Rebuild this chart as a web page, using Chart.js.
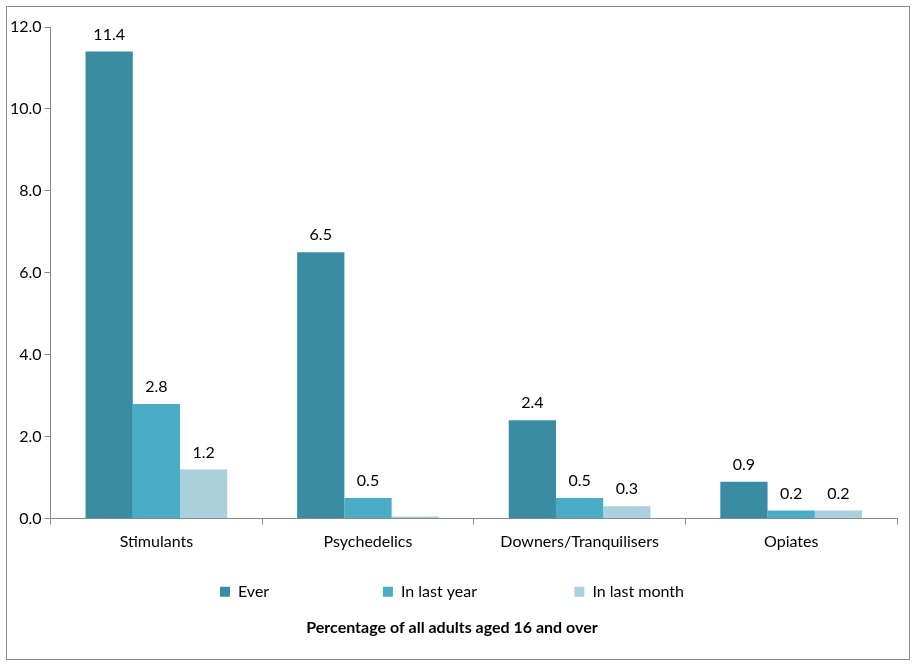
<!DOCTYPE html>
<html><head><meta charset="utf-8">
<script src="https://cdn.jsdelivr.net/npm/chart.js@4"></script>
<style>body{margin:0;background:#fff}#w{position:absolute;left:6px;top:6px;width:902px;height:652px;border:1px solid #8c8c8c}</style>
</head><body><div id="w"><canvas id="c"></canvas></div>
<script>
const categories=["Stimulants","Psychedelics","Downers/Tranquilisers","Opiates"];
const ever=[11.4,6.5,2.4,0.9];
const lastYear=[2.8,0.5,0.5,0.2];
const lastMonth=[1.2,0.05,0.3,0.2];
const lastMonthLabels=["1.2","","0.3","0.2"];
const sp=n=>'\u00a0'.repeat(n);
const labelPlugin={id:'lbl',afterDatasetsDraw(ch){const ctx=ch.ctx;ctx.save();ctx.font='16px Lato';ctx.fillStyle='#000';ctx.textAlign='center';ctx.textBaseline='bottom';
ch.data.datasets.forEach((ds,i)=>{ch.getDatasetMeta(i).data.forEach((b,j)=>{let t=i==2?lastMonthLabels[j]:ds.data[j].toFixed(1);if(t)ctx.fillText(t,b.x,b.y-9);});});ctx.restore();}};
new Chart(document.getElementById('c'),{type:'bar',
data:{labels:categories,datasets:[
{label:'Ever'+sp(22),data:ever,backgroundColor:'#3a8ca3'},
{label:'In last year'+sp(18),data:lastYear,backgroundColor:'#4bacc6'},
{label:'In last month',data:lastMonth,backgroundColor:'#a9d0dc'}]},
options:{responsive:true,maintainAspectRatio:false,animation:false,
layout:{padding:{top:20,right:12,left:0,bottom:22}},
datasets:{bar:{barPercentage:1,categoryPercentage:0.67}},
plugins:{tooltip:{enabled:false},
legend:{position:'bottom',labels:{font:{family:'Lato',size:16},color:'#000',boxWidth:10,boxHeight:10,padding:24}},
title:{display:true,position:'bottom',text:'Percentage of all adults aged 16 and over',font:{family:'Lato',size:16,weight:'bold'},color:'#000',padding:{top:8,bottom:0}}},
scales:{x:{grid:{drawOnChartArea:false,tickLength:6,color:'#888',offset:true},border:{color:'#888'},ticks:{font:{family:'Lato',size:16},color:'#000',padding:8}},
y:{min:0,max:12,ticks:{stepSize:2,callback:v=>v.toFixed(1),font:{family:'Lato',size:16},color:'#000'},grid:{drawOnChartArea:false,tickLength:6,color:'#888'},border:{color:'#888'}}}},
plugins:[labelPlugin]});
</script></body></html>
